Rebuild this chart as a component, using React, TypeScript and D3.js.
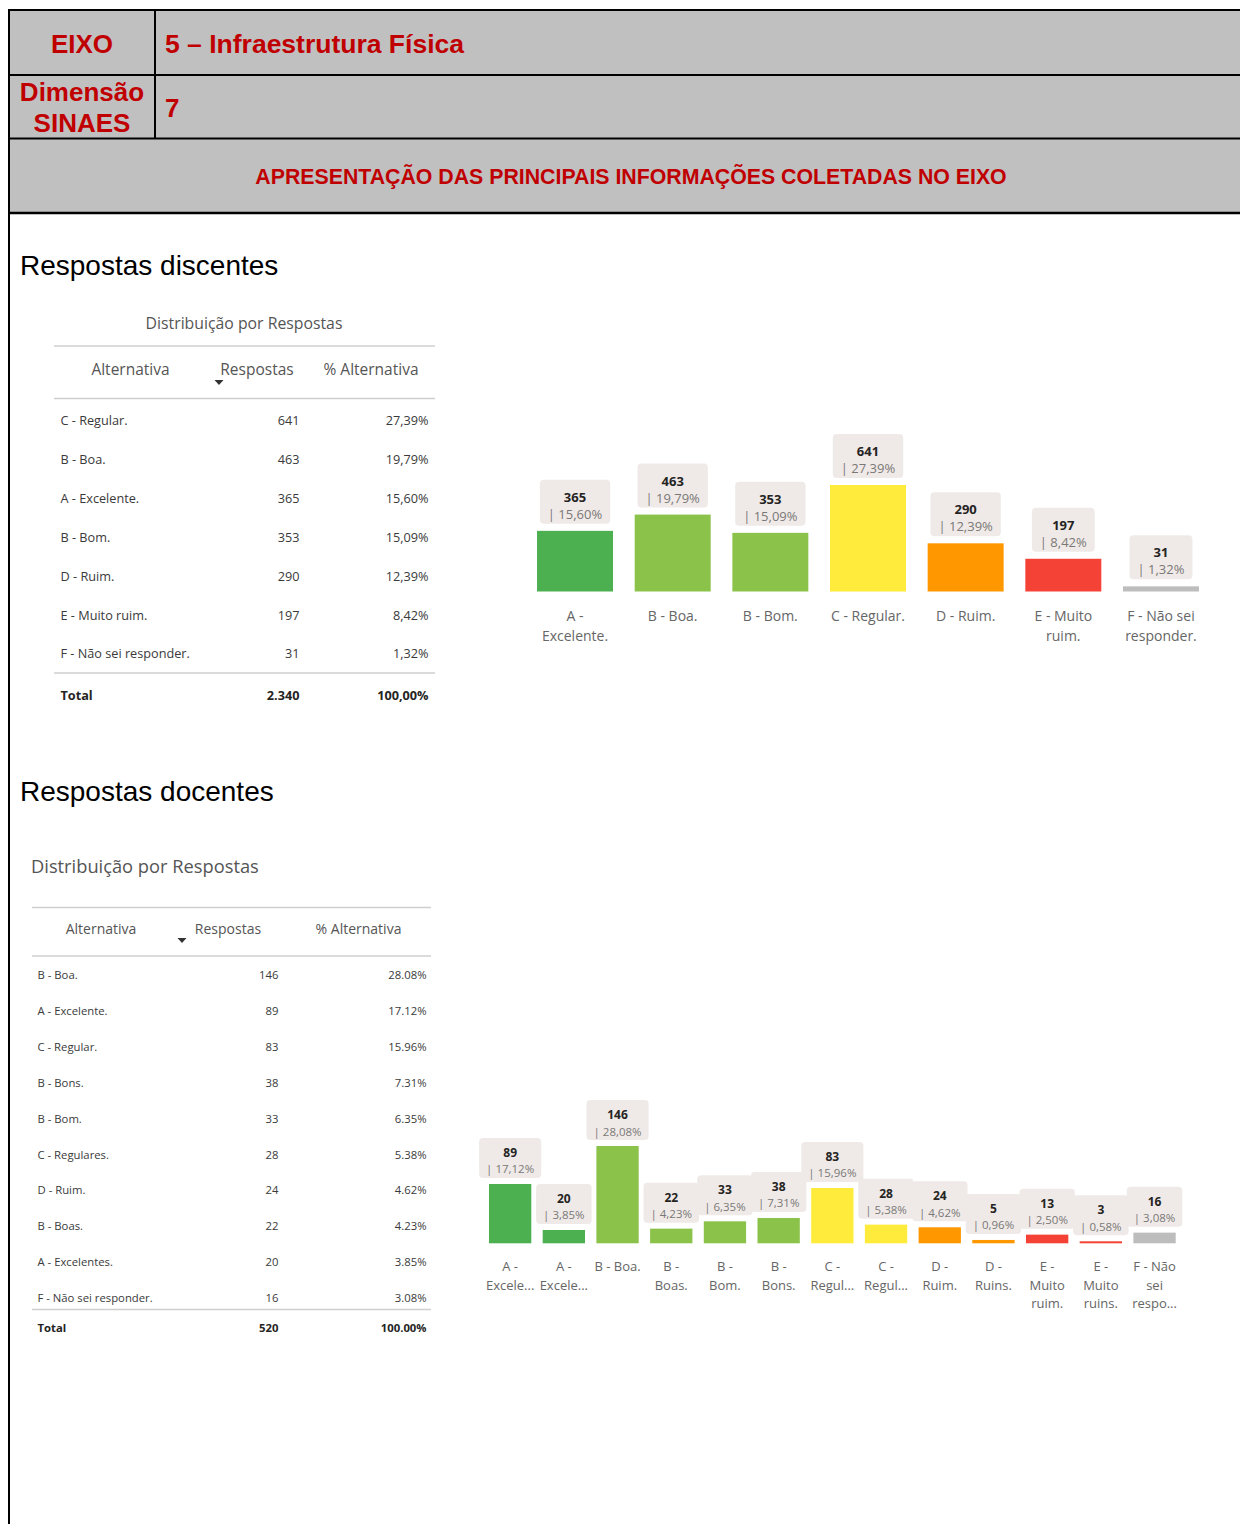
import React from "react";
import * as d3 from "d3";

const W = 1240;
const H = 1524;

// ---------- Header texts ----------
const eixoLabel = "EIXO";
const eixoValue = "5 – Infraestrutura Física";
const dimLabel = ["Dimensão", "SINAES"];
const dimValue = "7";
const bannerText = "APRESENTAÇÃO DAS PRINCIPAIS INFORMAÇÕES COLETADAS NO EIXO";
const section1Title = "Respostas discentes";
const section2Title = "Respostas docentes";

// ---------- Discentes ----------
const discCategories = ["A - Excelente.", "B - Boa.", "B - Bom.", "C - Regular.", "D - Ruim.", "E - Muito ruim.", "F - Não sei responder."];
const discValues = [365, 463, 353, 641, 290, 197, 31];
const discPcts = ["15,60%", "19,79%", "15,09%", "27,39%", "12,39%", "8,42%", "1,32%"];
const discTicks = [["A -", "Excelente."], ["B - Boa."], ["B - Bom."], ["C - Regular."], ["D - Ruim."], ["E - Muito", "ruim."], ["F - Não sei", "responder."]];

const discTableLabels = ["C - Regular.", "B - Boa.", "A - Excelente.", "B - Bom.", "D - Ruim.", "E - Muito ruim.", "F - Não sei responder."];
const discTableCounts = ["641", "463", "365", "353", "290", "197", "31"];
const discTablePcts = ["27,39%", "19,79%", "15,60%", "15,09%", "12,39%", "8,42%", "1,32%"];
const discTotal = ["Total", "2.340", "100,00%"];

// ---------- Docentes ----------
const docCategories = ["A - Excelente.", "A - Excelentes.", "B - Boa.", "B - Boas.", "B - Bom.", "B - Bons.", "C - Regular.", "C - Regulares.", "D - Ruim.", "D - Ruins.", "E - Muito ruim.", "E - Muito ruins.", "F - Não sei responder."];
const docValues = [89, 20, 146, 22, 33, 38, 83, 28, 24, 5, 13, 3, 16];
const docPcts = ["17,12%", "3,85%", "28,08%", "4,23%", "6,35%", "7,31%", "15,96%", "5,38%", "4,62%", "0,96%", "2,50%", "0,58%", "3,08%"];
const docTicks = [["A -", "Excele..."], ["A -", "Excele..."], ["B - Boa."], ["B -", "Boas."], ["B -", "Bom."], ["B -", "Bons."], ["C -", "Regul..."], ["C -", "Regul..."], ["D -", "Ruim."], ["D -", "Ruins."], ["E -", "Muito", "ruim."], ["E -", "Muito", "ruins."], ["F - Não", "sei", "respo..."]];

const docTableLabels = ["B - Boa.", "A - Excelente.", "C - Regular.", "B - Bons.", "B - Bom.", "C - Regulares.", "D - Ruim.", "B - Boas.", "A - Excelentes.", "F - Não sei responder."];
const docTableCounts = ["146", "89", "83", "38", "33", "28", "24", "22", "20", "16"];
const docTablePcts = ["28.08%", "17.12%", "15.96%", "7.31%", "6.35%", "5.38%", "4.62%", "4.23%", "3.85%", "3.08%"];
const docTotal = ["Total", "520", "100.00%"];

const tableTitle = "Distribuição por Respostas";
const tableHeaders = ["Alternativa", "Respostas", "% Alternativa"];

const colorByLetter: Record<string, string> = {
  A: "#4caf50",
  B: "#8bc34a",
  C: "#ffeb3b",
  D: "#ff9800",
  E: "#f44336",
  F: "#bdbdbd",
};

const RED = "#c00000";
const ARIAL = "'Liberation Sans', Arial, sans-serif";
const PBI = "'Open Sans', 'Noto Sans', sans-serif";

let _ctx: CanvasRenderingContext2D | null = null;
function measure(text: string, font: string): number {
  if (!_ctx) {
    const c = document.createElement("canvas");
    _ctx = c.getContext("2d");
  }
  if (!_ctx) return text.length * 7;
  _ctx.font = font;
  return _ctx.measureText(text).width;
}

type ChartProps = {
  categories: string[];
  values: number[];
  pcts: string[];
  ticks: string[][];
  x0: number;
  x1: number;
  baseline: number;
  top: number;
  padInner: number;
  padOuter: number;
  valueSize: number;
  pctSize: number;
  boxH: number;
  boxPad: number;
  boxGap: number;
  valueDy: number;
  pctDy: number;
  tickSize: number;
  tickY: number;
  tickLH: number;
};

function BarChart(p: ChartProps) {
  const x = d3.scaleBand<string>().domain(p.categories).range([p.x0, p.x1]).paddingInner(p.padInner).paddingOuter(p.padOuter);
  const y = d3.scaleLinear().domain([0, d3.max(p.values) as number]).range([p.baseline, p.top]);
  return (
    <g>
      {p.categories.map((c, i) => {
        const bx = x(c) as number;
        const bw = x.bandwidth();
        const yt = y(p.values[i]);
        return <rect key={"b" + i} x={bx} y={yt} width={bw} height={p.baseline - yt} fill={colorByLetter[c[0]]} />;
      })}
      {p.categories.map((c, i) => {
        const cx = (x(c) as number) + x.bandwidth() / 2;
        const yt = y(p.values[i]);
        const pctText = "| " + p.pcts[i];
        const tw = Math.max(
          measure(pctText, `${p.pctSize}px 'Open Sans'`),
          measure(String(p.values[i]), `bold ${p.valueSize}px 'Open Sans'`)
        );
        const bw = tw + p.boxPad * 2;
        const boxTop = yt - p.boxGap - p.boxH;
        return (
          <g key={"l" + i}>
            <rect x={cx - bw / 2} y={boxTop} width={bw} height={p.boxH} rx={4} fill="#efeae8" />
            <text x={cx} y={boxTop + p.valueDy} textAnchor="middle" fontFamily={PBI} fontWeight="bold" fontSize={p.valueSize} fill="#252423">
              {p.values[i]}
            </text>
            <text x={cx} y={boxTop + p.pctDy} textAnchor="middle" fontFamily={PBI} fontSize={p.pctSize} fill="#7a7876">
              {pctText}
            </text>
          </g>
        );
      })}
      {p.categories.map((c, i) => {
        const cx = (x(c) as number) + x.bandwidth() / 2;
        return (
          <text key={"t" + i} x={cx} y={p.tickY} textAnchor="middle" fontFamily={PBI} fontSize={p.tickSize} fill="#666">
            {p.ticks[i].map((ln, j) => (
              <tspan key={j} x={cx} y={p.tickY + j * p.tickLH}>
                {ln}
              </tspan>
            ))}
          </text>
        );
      })}
    </g>
  );
}

type TableProps = {
  labels: string[];
  counts: string[];
  pcts: string[];
  total: string[];
  titleX: number;
  titleY: number;
  titleAnchor: "start" | "middle";
  titleSize: number;
  lx0: number;
  lx1: number;
  line1: number;
  line2: number;
  line3: number;
  headerY: number;
  headerSize: number;
  headerX: number[];
  arrowX: number;
  arrowY: number;
  rowY0: number;
  rowStep: number;
  rowSize: number;
  labelX: number;
  countX: number;
  pctX: number;
  totalY: number;
};

function Table(t: TableProps) {
  return (
    <g fontFamily={PBI}>
      <text x={t.titleX} y={t.titleY} textAnchor={t.titleAnchor} fontSize={t.titleSize} fill="#555">
        {tableTitle}
      </text>
      {[t.line1, t.line2, t.line3].map((ly, i) => (
        <line key={i} x1={t.lx0} x2={t.lx1} y1={ly} y2={ly} stroke="#cfcfcf" strokeWidth={1.6} />
      ))}
      {tableHeaders.map((h, i) => (
        <text key={h} x={t.headerX[i]} y={t.headerY} textAnchor="middle" fontSize={t.headerSize} fill="#555">
          {h}
        </text>
      ))}
      <path d={`M${t.arrowX - 4.5},${t.arrowY - 2} L${t.arrowX + 4.5},${t.arrowY - 2} L${t.arrowX},${t.arrowY + 3} Z`} fill="#333" />
      {t.labels.map((lab, i) => {
        const yy = t.rowY0 + i * t.rowStep;
        return (
          <g key={i} fontSize={t.rowSize} fill="#3a3a3a">
            <text x={t.labelX} y={yy}>{lab}</text>
            <text x={t.countX} y={yy} textAnchor="end">{t.counts[i]}</text>
            <text x={t.pctX} y={yy} textAnchor="end">{t.pcts[i]}</text>
          </g>
        );
      })}
      <g fontSize={t.rowSize} fontWeight="bold" fill="#252423">
        <text x={t.labelX} y={t.totalY}>{t.total[0]}</text>
        <text x={t.countX} y={t.totalY} textAnchor="end">{t.total[1]}</text>
        <text x={t.pctX} y={t.totalY} textAnchor="end">{t.total[2]}</text>
      </g>
    </g>
  );
}

export default function App() {
  return (
    <svg width={W} height={H} style={{ position: "absolute", left: 0, top: 0, background: "#fff" }}>
      <rect x={0} y={0} width={W} height={H} fill="#fff" />
      {/* Header */}
      <rect x={9} y={10} width={W - 9} height={203} fill="#c0c0c0" />
      <g stroke="#000" strokeWidth={2}>
        <line x1={9} x2={W} y1={10} y2={10} />
        <line x1={9} x2={W} y1={75} y2={75} />
        <line x1={9} x2={W} y1={138.5} y2={138.5} />
        <line x1={9} x2={W} y1={213} y2={213} strokeWidth={2.5} />
        <line x1={155} x2={155} y1={10} y2={138.5} />
        <line x1={9} x2={9} y1={9} y2={H} />
      </g>
      <g fontFamily={ARIAL} fontWeight="bold" fill={RED}>
        <text x={82} y={52.5} textAnchor="middle" fontSize={26}>{eixoLabel}</text>
        <text x={165} y={52.5} fontSize={26.5}>{eixoValue}</text>
        <text x={82} y={101} textAnchor="middle" fontSize={26}>{dimLabel[0]}</text>
        <text x={82} y={132} textAnchor="middle" fontSize={26}>{dimLabel[1]}</text>
        <text x={165} y={117} fontSize={26}>{dimValue}</text>
        <text x={631} y={183.5} textAnchor="middle" fontSize={21.3}>{bannerText}</text>
      </g>
      <text x={20} y={275} fontFamily={ARIAL} fontSize={28} fill="#000">{section1Title}</text>
      <text x={20} y={801} fontFamily={ARIAL} fontSize={28} fill="#000">{section2Title}</text>

      <Table
        labels={discTableLabels}
        counts={discTableCounts}
        pcts={discTablePcts}
        total={discTotal}
        titleX={244}
        titleY={328.5}
        titleAnchor="middle"
        titleSize={15.8}
        lx0={54}
        lx1={435}
        line1={346}
        line2={398.5}
        line3={673}
        headerY={374.5}
        headerSize={15.5}
        headerX={[130.5, 257, 371]}
        arrowX={219}
        arrowY={382}
        rowY0={425}
        rowStep={38.9}
        rowSize={12.7}
        labelX={60.5}
        countX={299.5}
        pctX={428.5}
        totalY={700}
      />

      <BarChart
        categories={discCategories}
        values={discValues}
        pcts={discPcts}
        ticks={discTicks}
        x0={526.2}
        x1={1209.8}
        baseline={591.5}
        top={485}
        padInner={0.222}
        padOuter={0.111}
        valueSize={13}
        pctSize={13}
        boxH={44}
        boxPad={8}
        boxGap={7}
        valueDy={22}
        pctDy={39}
        tickSize={14}
        tickY={621}
        tickLH={20}
      />

      <Table
        labels={docTableLabels}
        counts={docTableCounts}
        pcts={docTablePcts}
        total={docTotal}
        titleX={31}
        titleY={872.5}
        titleAnchor="start"
        titleSize={18.3}
        lx0={32}
        lx1={431}
        line1={907.5}
        line2={956}
        line3={1309.5}
        headerY={934}
        headerSize={14}
        headerX={[101, 228, 358.5]}
        arrowX={182}
        arrowY={940}
        rowY0={979}
        rowStep={35.9}
        rowSize={11.3}
        labelX={37.5}
        countX={278.5}
        pctX={426.5}
        totalY={1332}
      />

      <BarChart
        categories={docCategories}
        values={docValues}
        pcts={docPcts}
        ticks={docTicks}
        x0={483.3}
        x1={1181.4}
        baseline={1243.3}
        top={1146}
        padInner={0.212}
        padOuter={0.106}
        valueSize={12}
        pctSize={11.5}
        boxH={40}
        boxPad={7}
        boxGap={6}
        valueDy={19}
        pctDy={35.5}
        tickSize={13}
        tickY={1271}
        tickLH={18.7}
      />
    </svg>
  );
}
